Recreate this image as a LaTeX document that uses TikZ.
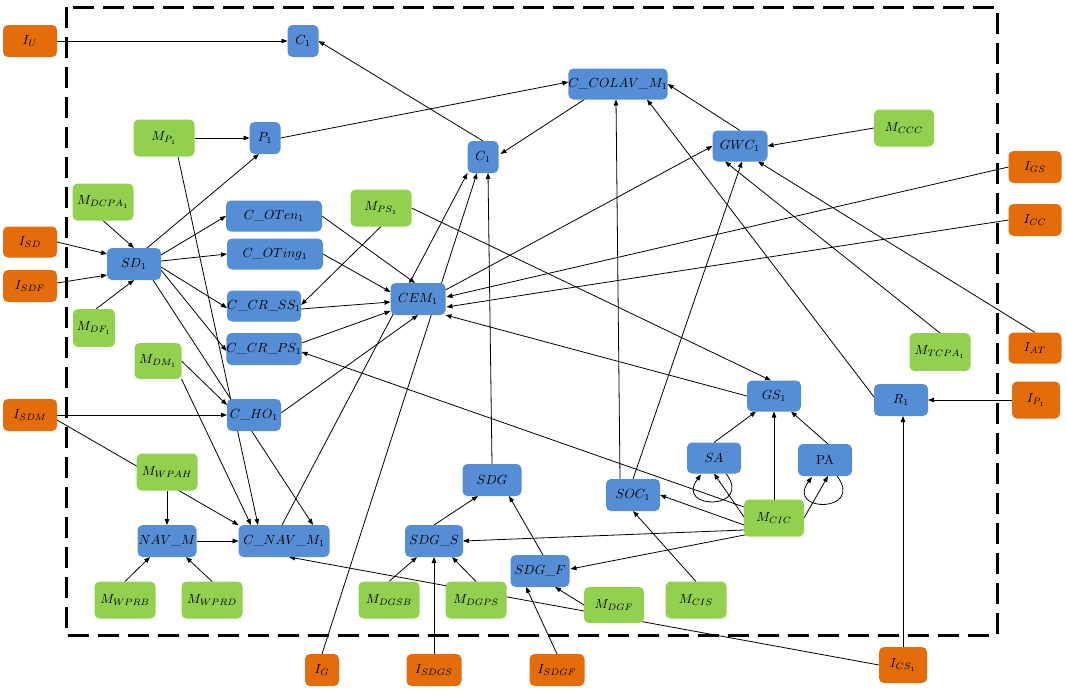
\documentclass[tikz,border=0pt]{standalone}
\usetikzlibrary{calc,arrows.meta,backgrounds}
\definecolor{cblue}{RGB}{85,142,213}
\definecolor{corange}{RGB}{228,108,10}
\definecolor{cgreen}{RGB}{146,208,80}
\tikzset{
  box/.style={rounded corners=5pt,inner sep=0pt,outer sep=0pt},
  bl/.style={box,fill=cblue},
  og/.style={box,fill=corange},
  gr/.style={box,fill=cgreen},
  e/.style={-{Triangle[length=6pt,width=4.5pt]},line width=0.8pt},
  frame/.style={line width=3pt,dash pattern=on 21pt off 9pt}
}
\newcommand\mynode[6]{\node[#1,minimum width=#4pt,minimum height=#5pt] (#2) at (#3) {\scalebox{1.32}{#6}};}
\begin{document}
\begin{tikzpicture}[x=1pt,y=-1pt]
\useasboundingbox (0,0) rectangle (1066,691);
% inputs
\mynode{og}{iu}{30,41}{54}{32}{$I_U$}
\mynode{og}{isd}{30,242}{54}{31}{$I_{SD}$}
\mynode{og}{isdf}{30,286}{54}{32}{$I_{SDF}$}
\mynode{og}{isdm}{30,415}{54}{32}{$I_{SDM}$}
\mynode{og}{ig}{322,670}{34}{32}{$I_G$}
\mynode{og}{isdgs}{434,670}{55}{32}{$I_{SDGS}$}
\mynode{og}{isdgf}{557,670}{55}{32}{$I_{SDGF}$}
\mynode{og}{ics}{903,665}{48}{36}{$I_{CS_1}$}
\mynode{og}{igs}{1035,167}{53}{32}{$I_{GS}$}
\mynode{og}{icc}{1035,220}{53}{32}{$I_{CC}$}
\mynode{og}{iat}{1035,348}{53}{31}{$I_{AT}$}
\mynode{og}{ip}{1036,400}{48}{37}{$I_{P_1}$}
% blue
\mynode{bl}{c1t}{303,41}{31}{32}{$C_1$}
\mynode{bl}{p1}{265,138}{31}{32}{$P_1$}
\mynode{bl}{coten}{274,216}{96}{31}{$C\_OTen_1$}
\mynode{bl}{coting}{275,254}{96}{31}{$C\_OTing_1$}
\mynode{bl}{sd}{134,264}{54}{32}{$SD_1$}
\mynode{bl}{crss}{264,306}{74}{31}{$C\_CR\_SS_1$}
\mynode{bl}{crps}{264,349}{74}{32}{$C\_CR\_PS_1$}
\mynode{bl}{cho}{254,415}{54}{32}{$C\_HO_1$}
\mynode{bl}{navm}{167,541}{59}{32}{$NAV\_M$}
\mynode{bl}{cnav}{284,541}{91}{32}{$C\_NAV\_M_1$}
\mynode{bl}{c1m}{483,157}{31}{32}{$C_1$}
\mynode{bl}{colav}{618,84}{96}{31}{$C\_COLAV\_M_1$}
\mynode{bl}{cem}{418,299}{55}{32}{$CEM_1$}
\mynode{bl}{gwc}{740,146}{55}{31}{$GWC_1$}
\mynode{bl}{gs}{774,396}{54}{31}{$GS_1$}
\mynode{bl}{r}{901,400}{54}{32}{$R_1$}
\mynode{bl}{sa}{714,458}{54}{31}{$SA$}
\mynode{bl}{pa}{825,460}{54}{32}{PA}
\mynode{bl}{soc}{633,495}{54}{32}{$SOC_1$}
\mynode{bl}{sdg}{492,480}{59}{32}{$SDG$}
\mynode{bl}{sdgs}{434,541}{58}{32}{$SDG\_S$}
\mynode{bl}{sdgf}{540,571}{59}{32}{$SDG\_F$}
% green
\mynode{gr}{mp}{164,138}{61}{37}{$M_{P_1}$}
\mynode{gr}{mdcpa}{103,202}{61}{37}{$M_{DCPA_1}$}
\mynode{gr}{mps}{381,208}{61}{37}{$M_{PS_1}$}
\mynode{gr}{mdf}{94,328}{42}{38}{$M_{DF_1}$}
\mynode{gr}{mdm}{158,361}{47}{36}{$M_{DM_1}$}
\mynode{gr}{mwpah}{167,472}{61}{37}{$M_{WPAH}$}
\mynode{gr}{mwprb}{125,600}{61}{37}{$M_{WPRB}$}
\mynode{gr}{mwprd}{212,600}{61}{37}{$M_{WPRD}$}
\mynode{gr}{mdgsb}{389,600}{61}{37}{$M_{DGSB}$}
\mynode{gr}{mdgps}{476,600}{61}{37}{$M_{DGPS}$}
\mynode{gr}{mdgf}{614,605}{60}{36}{$M_{DGF}$}
\mynode{gr}{mcis}{696,600}{61}{37}{$M_{CIS}$}
\mynode{gr}{mcic}{774,518}{60}{37}{$M_{CIC}$}
\mynode{gr}{mccc}{904,128}{60}{37}{$M_{CCC}$}
\mynode{gr}{mtcpa}{940,352}{61}{38}{$M_{TCPA_1}$}
\begin{pgfonlayer}{background}
\draw[frame] (66,7) rectangle (997,635);
\draw[e] (iu.east) -- (iu.east -| c1t.west);
\draw[e] (c1m.north) -- (c1t.east);
\draw[e] (mp.east) -- (mp.east -| p1.west);
\draw[e] (p1.east) -- ($(colav.west)+(0,-2)$);
\draw[e] ($(colav.south west)+(16,0)$) -- ($(c1m.east)+(2,-3)$);
\draw[e] ($(sd.north)+(13,0)$) -- ($(p1.south)+(-6,0)$);
\draw[e] (mdcpa.south) -- (sd.north);
\draw[e] (isd.east) -- ($(sd.west)+(0,-10)$);
\draw[e] ($(isdf.east)+(0,-3)$) -- ($(sd.west)+(0,11)$);
\draw[e] ($(mdf.north)+(2,0)$) -- (sd.south);
\draw[e] ($(sd.east)+(0,-9)$) -- (coten.west);
\draw[e] ($(sd.east)+(0,-3)$) -- (coting.west);
\draw[e] ($(sd.east)+(0,3)$) -- ($(crss.west)+(0,2)$);
\draw[e] ($(sd.east)+(0,6)$) -- ($(crps.west)+(0,2)$);
\draw[e] ($(sd.south)+(19,0)$) -- ($(cnav.north)+(29,0)$);
\draw[e] ($(mp.south)+(14,0)$) -- ($(cnav.north)+(-26,0)$);
\draw[e] (mdm.east) -- ($(cho.west)+(0,-10)$);
\draw[e] (isdm.east) -- (isdm.east -| cho.west);
\draw[e] (mdm.south east) -- ($(cnav.north)+(-33,0)$);
\draw[e] ($(isdm.east)+(0,5)$) -- (cnav.north west);
\draw[e] (mwpah.south) -- (navm.north);
\draw[e] (navm.east) -- (cnav.west);
\draw[e] (mwprb.north) -- ($(navm.south)+(-17,0)$);
\draw[e] (mwprd.north) -- ($(navm.south)+(19,0)$);
\draw[e] (ics.west) -- ($(cnav.south)+(5,0)$);
\draw[e] ($(cnav.north)+(-2,0)$) -- (c1m.south west);
\draw[e] (ig.north) -- ($(c1m.south)+(-6,0)$);
\draw[e] (sdg.north) -- ($(c1m.south)+(5,0)$);
\draw[e] (coten.east) -- ($(cem.north)+(-3,0)$);
\draw[e] (coting.east) -- ($(cem.west)+(0,-7)$);
\draw[e] ($(crss.east)+(0,3)$) -- ($(cem.west)+(0,3)$);
\draw[e] ($(crps.east)+(0,-6)$) -- ($(cem.west)+(0,12)$);
\draw[e] ($(cho.east)+(0,-2)$) -- (cem.south);
\draw[e] (mps.south) -- ($(crss.east)+(0,-1)$);
\draw[e] (mps.east) -- ($(gs.north)+(-3,0)$);
\draw[e] (igs.west) -- ($(cem.east)+(1,-2)$);
\draw[e] (icc.west) -- ($(cem.east)+(1,8)$);
\draw[e] (gs.west) -- (cem.south east);
\draw[e] ($(cem.north east)+(0,7)$) -- (gwc.west);
\draw[e] (gwc.north) -- (colav.east);
\draw[e] (mccc.west) -- (gwc.east);
\draw[e] (mtcpa.north) -- ($(gwc.south)+(-15,0)$);
\draw[e] (soc.north) -- ($(gwc.south)+(2,0)$);
\draw[e] (iat.north) -- ($(gwc.south)+(18,0)$);
\draw[e] ($(soc.north)+(-13,0)$) -- ($(colav.south)+(-2,0)$);
\draw[e] ($(r.west)+(0,-3)$) -- ($(colav.south)+(29,0)$);
\draw[e] ($(mcic.west)+(0,-11)$) -- ($(crps.east)+(0,3)$);
\draw[e] ($(mcic.west)+(0,12)$) -- (sdgs.east);
\draw[e] ($(mcic.south west)+(3,-2)$) -- ($(sdgf.east)+(1,-2)$);
\draw[e] ($(mcic.west)+(0,7)$) -- (soc.east);
\draw[e] (mcis.north) -- (soc.south);
\draw[e] ($(mcic.west)+(0,-1)$) -- (sa.south);
\draw[e] (mcic.north) -- (gs.south);
\draw[e] (mcic.east) -- ($(pa.south)+(3,0)$);
\draw[e] (sa.north) -- ($(gs.south)+(-18,0)$);
\draw[e] ($(pa.north)+(3,0)$) -- ($(gs.south)+(17,0)$);
\draw[e] ($(sa.south)+(12,0)$) .. controls ($(sa.south)+(40,37)$) and ($(sa.south)+(-40,37)$) .. ($(sa.south)+(-13,1)$);
\draw[e] ($(pa.south)+(12,0)$) .. controls ($(pa.south)+(40,37)$) and ($(pa.south)+(-40,37)$) .. ($(pa.south)+(-13,1)$);
\draw[e] (ip.west) -- (ip.west -| r.east);
\draw[e] (ics.north) -- (ics.north |- r.south);
\draw[e] (mdgsb.north) -- ($(sdgs.south)+(-17,0)$);
\draw[e] (isdgs.north) -- (sdgs.south);
\draw[e] (mdgps.north) -- ($(sdgs.south)+(18,0)$);
\draw[e] (sdgs.north) -- ($(sdg.south)+(-14,0)$);
\draw[e] ($(sdgf.north)+(3,0)$) -- ($(sdg.south)+(17,0)$);
\draw[e] (isdgf.north) -- ($(sdgf.south)+(-14,0)$);
\draw[e] (mdgf.west) -- ($(sdgf.south)+(15,0)$);
\end{pgfonlayer}
\end{tikzpicture}
\end{document}
